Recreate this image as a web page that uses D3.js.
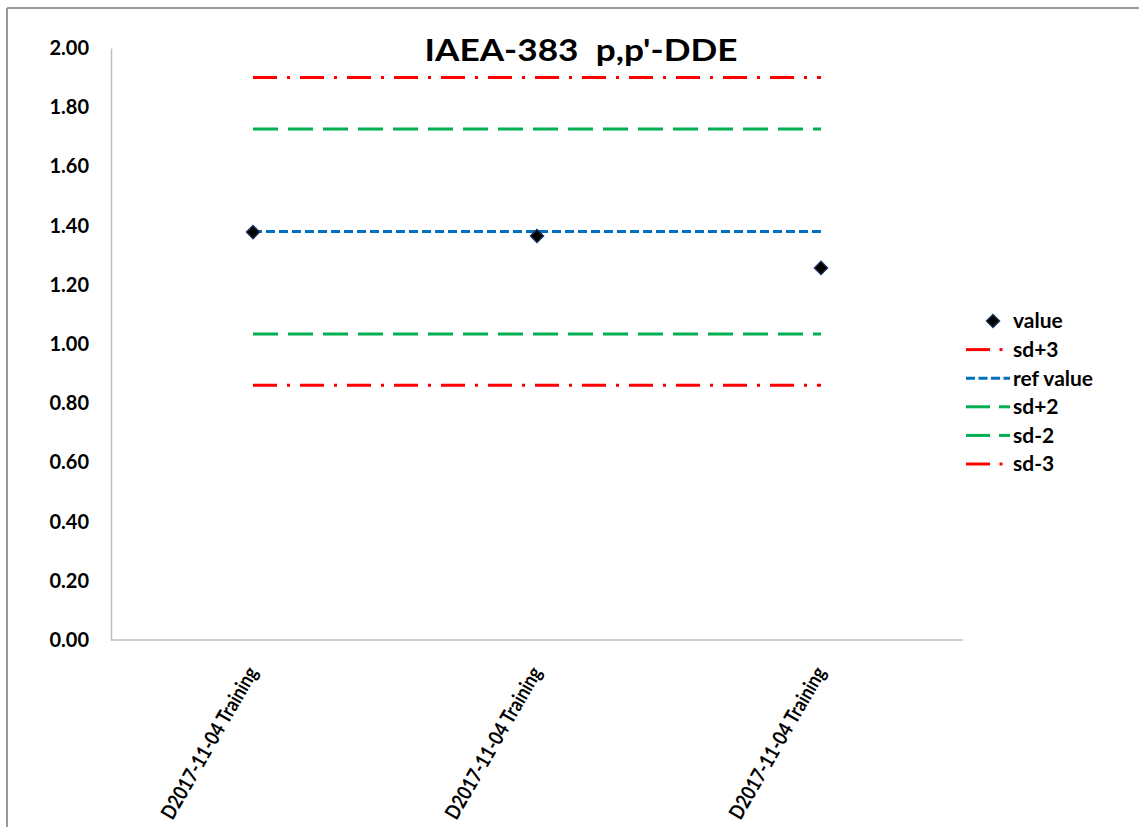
<!DOCTYPE html>
<html>
<head>
<meta charset="utf-8">
<script src="https://cdn.jsdelivr.net/npm/d3@7"></script>
<style>
  html, body { margin: 0; padding: 0; background: #fff; }
  svg { display: block; }
  text { font-family: Lato, "Open Sans", sans-serif; font-weight: bold; fill: #000; }
</style>
</head>
<body>
<svg id="chart" width="1139" height="827"></svg>
<script>
const title = "IAEA-383  p,p'-DDE";
const categories = ["D2017-11-04 Training", "D2017-11-04 Training ", "D2017-11-04 Training  "];
const values = [1.378, 1.365, 1.257];
const refValue = [1.38, 1.38, 1.38];
const sdPlus3 = [1.90, 1.90, 1.90];
const sdPlus2 = [1.726, 1.726, 1.726];
const sdMinus2 = [1.034, 1.034, 1.034];
const sdMinus3 = [0.861, 0.861, 0.861];
const yTicks = [0, 0.2, 0.4, 0.6, 0.8, 1.0, 1.2, 1.4, 1.6, 1.8, 2.0];
const legendLabels = ["value", "sd+3", "ref value", "sd+2", "sd-2", "sd-3"];

const svg = d3.select("#chart");
const W = 1139, H = 827;
svg.append("rect").attr("width", W).attr("height", H).attr("fill", "#fff");

// outer frame (top and left edges visible)
svg.append("line").attr("x1", 7).attr("x2", W).attr("y1", 8).attr("y2", 8)
  .attr("stroke", "#9a9a9a").attr("stroke-width", 2);
svg.append("line").attr("x1", 7).attr("x2", 7).attr("y1", 8).attr("y2", H)
  .attr("stroke", "#9a9a9a").attr("stroke-width", 2);

const plot = { left: 111, right: 963, top: 48, bottom: 640 };
const x = d3.scalePoint().domain(categories).range([plot.left, plot.right]).padding(0.5);
const y = d3.scaleLinear().domain([0, 2]).range([plot.bottom, plot.top]);

// axes
const yAxis = d3.axisLeft(y).tickValues(yTicks).tickFormat(d3.format(".2f")).tickSize(0).tickPadding(22);
const gy = svg.append("g").attr("transform", `translate(${plot.left},0)`).call(yAxis);
gy.select(".domain").attr("stroke", "#bfbfbf").attr("stroke-width", 1.5);
gy.selectAll("text").attr("font-size", 20).attr("font-family", "Lato").attr("font-weight", "bold").attr("fill", "#000");

const xAxis = d3.axisBottom(x).tickSize(0).tickPadding(0);
const gx = svg.append("g").attr("transform", `translate(0,${plot.bottom})`).call(xAxis);
gx.select(".domain").attr("stroke", "#bfbfbf").attr("stroke-width", 1.5)
  .attr("d", `M${plot.left},0H${plot.right}`);
gx.selectAll("text")
  .text(d => d.trim())
  .attr("font-size", 20.5).attr("font-family", "Lato").attr("font-weight", "bold").attr("fill", "#000")
  .attr("text-anchor", "end")
  .attr("textLength", 172).attr("lengthAdjust", "spacingAndGlyphs")
  .attr("dy", null).attr("y", 0)
  .attr("transform", "translate(5,32) rotate(-60)");

// horizontal reference lines
const lineGen = d3.line().x((d, i) => x(categories[i])).y(d => y(d));
const series = [
  { data: sdPlus3, color: "#ff0000", dash: "24,10,3,10", w: 3 },
  { data: sdPlus2, color: "#00b050", dash: "25,10", w: 3 },
  { data: refValue, color: "#0070c0", dash: "9,4", w: 3 },
  { data: sdMinus2, color: "#00b050", dash: "25,10", w: 3 },
  { data: sdMinus3, color: "#ff0000", dash: "24,10,3,10", w: 3 }
];
series.forEach(s => {
  svg.append("path").attr("d", lineGen(s.data)).attr("fill", "none")
    .attr("stroke", s.color).attr("stroke-width", s.w).attr("stroke-dasharray", s.dash);
});

// value markers
const diamond = d3.symbol().type(d3.symbolSquare).size(90);
svg.selectAll(".pt").data(values).enter().append("path")
  .attr("d", diamond)
  .attr("transform", (d, i) => `translate(${x(categories[i])},${y(d)}) rotate(45)`)
  .attr("fill", "#000").attr("stroke", "#1f3864").attr("stroke-width", 1.2);

// title
svg.append("text").attr("x", 581).attr("y", 61).attr("text-anchor", "middle")
  .attr("xml:space", "preserve").style("white-space", "pre")
  .attr("font-size", 31).attr("textLength", 313).attr("lengthAdjust", "spacingAndGlyphs")
  .text(title);

// legend
const legendItems = [
  { type: "marker" },
  { color: "#ff0000", dash: "dd" },
  { color: "#0070c0", dash: "blue" },
  { color: "#00b050", dash: "green" },
  { color: "#00b050", dash: "green" },
  { color: "#ff0000", dash: "dd" }
];
const lg = svg.append("g");
legendItems.forEach((it, i) => {
  const cy = 321 + i * 28.6;
  if (it.type === "marker") {
    lg.append("path").attr("d", diamond)
      .attr("transform", `translate(993,${cy}) rotate(45)`)
      .attr("fill", "#000").attr("stroke", "#1f3864").attr("stroke-width", 1.2);
  } else if (it.dash === "dd") {
    lg.append("line").attr("x1", 966).attr("x2", 990).attr("y1", cy).attr("y2", cy)
      .attr("stroke", it.color).attr("stroke-width", 3);
    lg.append("line").attr("x1", 999.5).attr("x2", 1002.5).attr("y1", cy).attr("y2", cy)
      .attr("stroke", it.color).attr("stroke-width", 3);
  } else if (it.dash === "green") {
    lg.append("line").attr("x1", 966).attr("x2", 990).attr("y1", cy).attr("y2", cy)
      .attr("stroke", it.color).attr("stroke-width", 3);
    lg.append("line").attr("x1", 999).attr("x2", 1010).attr("y1", cy).attr("y2", cy)
      .attr("stroke", it.color).attr("stroke-width", 3);
  } else {
    lg.append("line").attr("x1", 966).attr("x2", 1010).attr("y1", cy).attr("y2", cy)
      .attr("stroke", it.color).attr("stroke-width", 3).attr("stroke-dasharray", "9,3.5");
  }
  lg.append("text").attr("x", 1013).attr("y", cy).attr("dy", "0.35em")
    .attr("font-size", 21).text(legendLabels[i]);
});
</script>
</body>
</html>
